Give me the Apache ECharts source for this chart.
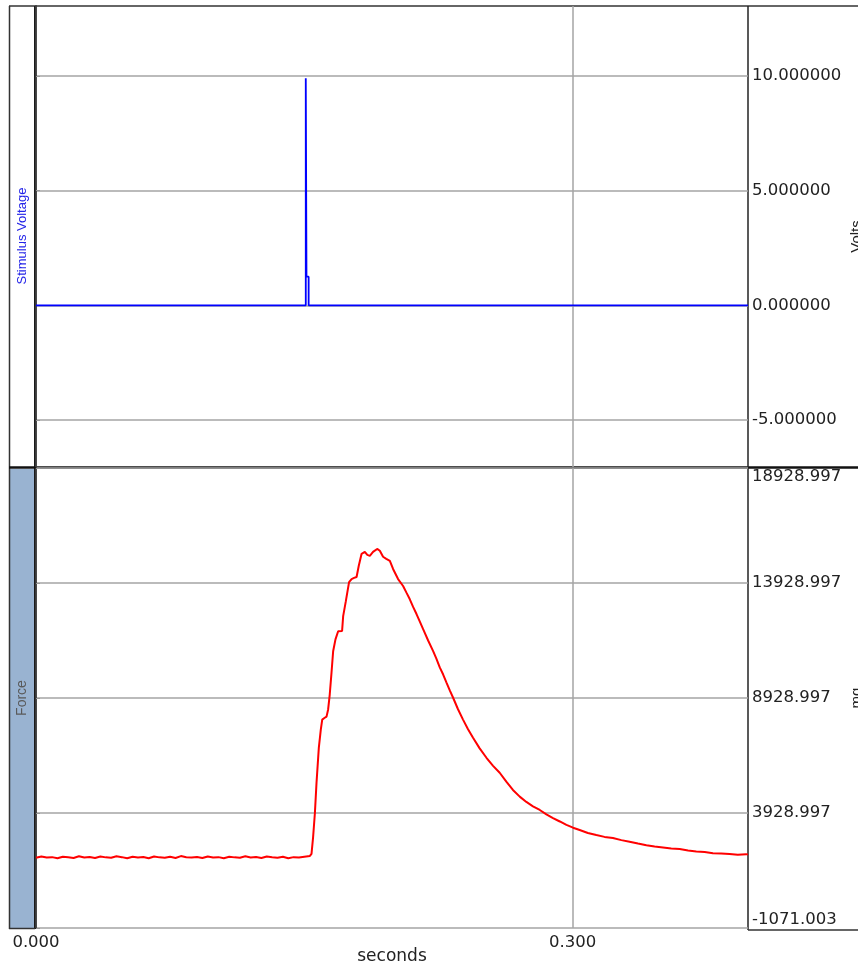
<!DOCTYPE html>
<html>
<head>
<meta charset="utf-8">
<title>Stimulus Voltage / Force</title>
<script src="https://cdn.jsdelivr.net/npm/echarts@6/dist/echarts.min.js"></script>
<style>
  html, body { margin: 0; padding: 0; background: #fff; }
  #chart { width: 858px; height: 967px; }
</style>
</head>
<body>
<div id="chart"></div>
<script>
// time axis (seconds)
const timeTicks = [0, 0.3];
const timeMax = 0.398;

// stimulus channel (Volts)
const voltTicks = [-5, 0, 5, 10];
const stimTime = [0, 0.1508, 0.1508, 0.1512, 0.1512, 0.1524, 0.1524, 0.398];
const stimValue = [0, 0, 9.9, 9.9, 1.25, 1.25, 0, 0];

// force channel
const forceTicks = [-1071.003, 3928.997, 8928.997, 13928.997, 18928.997];
const forceTime = [
  0, 0.003, 0.006, 0.009, 0.012, 0.015, 0.018, 0.021, 0.024, 0.027,
  0.030, 0.033, 0.036, 0.039, 0.042, 0.045, 0.048, 0.051, 0.054, 0.057,
  0.060, 0.063, 0.066, 0.069, 0.072, 0.075, 0.078, 0.081, 0.084, 0.087,
  0.090, 0.093, 0.096, 0.099, 0.102, 0.105, 0.108, 0.111, 0.114, 0.117,
  0.120, 0.123, 0.126, 0.129, 0.132, 0.135, 0.138, 0.141, 0.144, 0.147,
  0.150, 0.1531, 0.1540, 0.1549, 0.1559, 0.1568, 0.1581, 0.1592, 0.1600, 0.1612,
  0.1624, 0.1633, 0.1642, 0.1652, 0.1661, 0.1674, 0.1689, 0.1700, 0.1711, 0.1717,
  0.1732, 0.1750, 0.1764, 0.1778, 0.1792, 0.1804, 0.1820, 0.1838, 0.1852, 0.1866,
  0.1884, 0.1895, 0.1907, 0.1922, 0.1940, 0.1958, 0.1978, 0.1996, 0.2024, 0.2052,
  0.2070, 0.2089, 0.2108, 0.2127, 0.2145, 0.2164, 0.2192, 0.2220, 0.2238, 0.2257,
  0.2276, 0.2294, 0.2313, 0.2331, 0.2359, 0.2387, 0.2415, 0.2443, 0.2480, 0.2518,
  0.2555, 0.2592, 0.2629, 0.2666, 0.2704, 0.2741, 0.2778, 0.2816, 0.2853, 0.2890,
  0.2928, 0.2965, 0.3002, 0.3039, 0.3085, 0.3132, 0.3178, 0.3225, 0.3272, 0.3318,
  0.3365, 0.3412, 0.3458, 0.3505, 0.3551, 0.3598, 0.3645, 0.3691, 0.3738, 0.3784,
  0.3830, 0.3877, 0.3923, 0.3970, 0.3980
];
const forceValue = [
  1985, 2040, 1990, 2010, 1960, 2030, 2005, 1975, 2050, 1995,
  2020, 1970, 2035, 2000, 1980, 2045, 2010, 1965, 2025, 1990,
  2015, 1960, 2040, 2000, 1985, 2030, 1975, 2055, 2005, 1990,
  2020, 1970, 2040, 1995, 2010, 1965, 2030, 2000, 1980, 2045,
  1990, 2015, 1970, 2035, 2005, 1985, 2025, 1960, 2010, 1995,
  2030, 2060, 2150, 2880, 3930, 5240, 6770, 7550, 7990, 8060,
  8120, 8430, 9080, 10040, 10960, 11480, 11830, 11790, 11840, 12490,
  13140, 13970, 14100, 14150, 14190, 14670, 15200, 15280, 15150, 15110,
  15280, 15350, 15410, 15330, 15070, 14980, 14890, 14540, 14100, 13800,
  13520, 13230, 12890, 12580, 12260, 11920, 11430, 10970, 10640, 10260,
  9950, 9610, 9260, 8950, 8440, 7990, 7570, 7200, 6740, 6330,
  5980, 5680, 5290, 4930, 4640, 4410, 4220, 4060, 3870, 3710,
  3560, 3410, 3290, 3190, 3060, 2970, 2890, 2840, 2750, 2680,
  2600, 2530, 2470, 2430, 2390, 2360, 2300, 2260, 2230, 2180,
  2170, 2150, 2110, 2140, 2120
];

const chart = echarts.init(document.getElementById('chart'));

const labelFont = { fontFamily: 'DejaVu Sans', fontSize: 16.5, color: '#222' };
const gridLine = { show: true, lineStyle: { color: '#a4a4a4', width: 1.5 } };

const option = {
  animation: false,
  backgroundColor: '#fff',
  grid: [
    { left: 36, top: 6, width: 712, height: 461, containLabel: false, outerBoundsMode: 'none' },
    { left: 36, top: 468, width: 712, height: 460, containLabel: false, outerBoundsMode: 'none' }
  ],
  xAxis: [
    {
      type: 'value', gridIndex: 0, min: 0, max: timeMax,
      axisLine: { show: false }, axisTick: { show: false, customValues: timeTicks },
      axisLabel: { show: false, customValues: timeTicks },
      splitLine: gridLine
    },
    {
      type: 'value', gridIndex: 1, min: 0, max: timeMax,
      name: 'seconds', nameLocation: 'middle', nameGap: 20, nameMoveOverlap: false,
      nameTextStyle: { fontFamily: 'DejaVu Sans', fontSize: 17, color: '#222' },
      axisLine: { show: false }, axisTick: { show: false, customValues: timeTicks },
      axisLabel: Object.assign({ margin: 6, customValues: timeTicks,
        formatter: v => v.toFixed(3) }, labelFont),
      splitLine: gridLine
    }
  ],
  yAxis: [
    {
      type: 'value', gridIndex: 0, position: 'right', min: -7.05, max: 13.05,
      name: 'Volts', nameLocation: 'middle', nameGap: 101, nameRotate: 90, nameMoveOverlap: false,
      nameTextStyle: { fontFamily: 'Liberation Sans', fontSize: 15, color: '#222' },
      axisLine: { show: true, lineStyle: { color: '#222', width: 1.5 } },
      axisTick: { show: true, length: 4, customValues: voltTicks, lineStyle: { color: '#999' } },
      axisLabel: Object.assign({ margin: 4, customValues: voltTicks,
        formatter: v => v.toFixed(6) }, labelFont),
      splitLine: gridLine
    },
    {
      type: 'value', gridIndex: 1, position: 'right', min: -1071.003, max: 18928.997,
      name: 'mg', nameLocation: 'middle', nameGap: 101, nameRotate: 90, nameMoveOverlap: false,
      nameTextStyle: { fontFamily: 'Liberation Sans', fontSize: 15, color: '#222' },
      axisLine: { show: true, lineStyle: { color: '#222', width: 1.5 } },
      axisTick: { show: true, length: 4, customValues: forceTicks, lineStyle: { color: '#999' } },
      axisLabel: Object.assign({ margin: 4, customValues: forceTicks,
        verticalAlignMinLabel: 'bottom', verticalAlignMaxLabel: 'top',
        formatter: v => v.toFixed(3) }, labelFont),
      splitLine: gridLine
    }
  ],
  series: [
    {
      type: 'line', xAxisIndex: 0, yAxisIndex: 0, symbol: 'none',
      lineStyle: { color: '#0000ff', width: 1.8 },
      data: stimTime.map((t, i) => [t, stimValue[i]])
    },
    {
      type: 'line', xAxisIndex: 1, yAxisIndex: 1, symbol: 'none',
      lineStyle: { color: '#ff0000', width: 2 },
      data: forceTime.map((t, i) => [t, forceValue[i]])
    }
  ],
  graphic: [
    // channel title strips
    { type: 'rect', shape: { x: 10, y: 469, width: 25, height: 459 },
      style: { fill: '#99b3d1' }, silent: true },
    { type: 'text', x: 22, y: 236, rotation: Math.PI / 2,
      style: { text: 'Stimulus Voltage', fill: '#2424e8', align: 'center', verticalAlign: 'middle',
        font: '13px "Liberation Sans"' } },
    { type: 'text', x: 22, y: 698, rotation: Math.PI / 2,
      style: { text: 'Force', fill: '#5a5a5a', align: 'center', verticalAlign: 'middle',
        font: '14px "Liberation Sans"' } },
    // frame
    { type: 'line', shape: { x1: 9, y1: 6, x2: 858, y2: 6 }, style: { stroke: '#333', lineWidth: 1.5 } },
    { type: 'line', shape: { x1: 9.5, y1: 6, x2: 9.5, y2: 929 }, style: { stroke: '#333', lineWidth: 1.5 } },
    { type: 'line', shape: { x1: 35, y1: 6, x2: 35, y2: 929 }, style: { stroke: '#1a1a1a', lineWidth: 2 } },
    { type: 'line', shape: { x1: 9, y1: 928.5, x2: 35, y2: 928.5 }, style: { stroke: '#333', lineWidth: 1.5 } },
    { type: 'line', shape: { x1: 9, y1: 467.5, x2: 858, y2: 467.5 }, style: { stroke: '#111', lineWidth: 2.5 } },
    { type: 'line', shape: { x1: 748, y1: 6, x2: 748, y2: 930 }, style: { stroke: '#222', lineWidth: 1.5 } },
    { type: 'line', shape: { x1: 748, y1: 930, x2: 858, y2: 930 }, style: { stroke: '#333', lineWidth: 1.5 } }
  ]
};

chart.setOption(option);
window.addEventListener('resize', () => chart.resize());
</script>
</body>
</html>
